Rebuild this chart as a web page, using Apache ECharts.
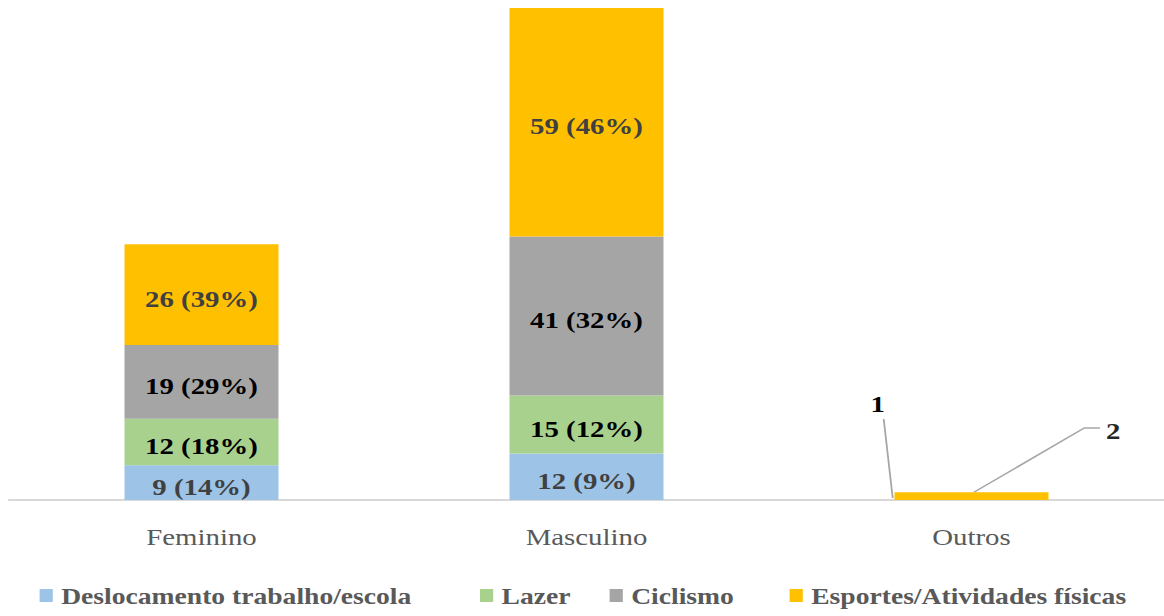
<!DOCTYPE html>
<html>
<head>
<meta charset="utf-8">
<script src="https://cdn.jsdelivr.net/npm/echarts@6/dist/echarts.min.js"></script>
<style>
html,body{margin:0;padding:0;background:#fff;overflow:hidden}
#wrap{width:1164px;height:616px;overflow:hidden}
#c{width:970px;height:616px;transform:scaleX(1.2);transform-origin:0 0}
</style>
</head>
<body>
<div id="wrap"><div id="c"></div></div>
<script>
const categories = ['Feminino', 'Masculino', 'Outros'];
const seriesNames = ['Deslocamento trabalho/escola', 'Lazer', 'Ciclismo', 'Esportes/Atividades físicas'];
const deslocamento = [9, 12, 0];
const lazer = [12, 15, 0];
const ciclismo = [19, 41, 0];
const esportes = [26, 59, 2];
const deslocamentoLabels = ['9 (14%)', '12 (9%)', '1'];
const lazerLabels = ['12 (18%)', '15 (12%)', ''];
const ciclismoLabels = ['19 (29%)', '41 (32%)', ''];
const esportesLabels = ['26 (39%)', '59 (46%)', '2'];

const colors = ['#9DC3E6', '#A9D18E', '#A5A5A5', '#FFC000'];
const labelColors = ['#404040', '#000000', '#000000', '#404040'];
const outrosLabelColors = ['#000000', '#000000', '#000000', '#262626'];
const serif = '"Liberation Serif", "Times New Roman", serif';

function mkSeries(idx, values, labels) {
  return {
    name: seriesNames[idx],
    type: 'bar',
    stack: 'total',
    barWidth: '40%',
    itemStyle: { color: colors[idx] },
    data: values.map((v, i) => (i === 2 ? { value: v, label: { color: outrosLabelColors[idx] } } : { value: v })),
    label: {
      show: true,
      position: 'inside',
      fontFamily: serif,
      fontWeight: 'bold',
      fontSize: 24,
      color: labelColors[idx],
      formatter: p => labels[p.dataIndex]
    },
    labelLayout: function (p) {
      const r = p.rect;
      if (p.dataIndex !== 2) return { dy: 4 };
      if (idx === 0) {
        return { x: r.x - 14, y: r.y - 96, align: 'center', verticalAlign: 'middle' };
      }
      if (idx === 3) {
        return { x: r.x + r.width / 2 + 118, y: r.y - 61, align: 'center', verticalAlign: 'middle' };
      }
      return {};
    }
  };
}

const legendLefts = [33, 400, 508, 658];
const legends = seriesNames.map((n, i) => ({
  data: [n],
  top: 584,
  left: legendLefts[i],
  padding: 0,
  itemWidth: 11,
  itemHeight: 13,
  icon: 'rect',
  selectedMode: false,
  textStyle: { fontFamily: serif, fontWeight: 'bold', fontSize: 23, color: '#595959', padding: [0, 0, 0, 2] }
}));

const chart = echarts.init(document.getElementById('c'), null, { renderer: 'svg' });
chart.setOption({
  animation: false,
  color: colors,
  grid: { left: 7.5, right: 0, top: 8, bottom: 116, containLabel: false },
  legend: legends,
  xAxis: {
    type: 'category',
    data: categories,
    axisLine: { lineStyle: { color: '#D9D9D9', width: 2 } },
    axisTick: { show: false },
    axisLabel: { fontFamily: serif, fontSize: 24, color: '#595959', margin: 25 }
  },
  yAxis: {
    type: 'value',
    min: 0,
    max: 127,
    show: false,
    splitLine: { show: false }
  },
  series: [
    mkSeries(0, deslocamento, deslocamentoLabels),
    mkSeries(1, lazer, lazerLabels),
    mkSeries(2, ciclismo, ciclismoLabels),
    mkSeries(3, esportes, esportesLabels)
  ]
});

// leader lines for the "Outros" labels, anchored on the bar via the chart's own scales
const finder = { xAxisIndex: 0, yAxisIndex: 0 };
const pOutTop = chart.convertToPixel(finder, ['Outros', esportes[2] + ciclismo[2] + lazer[2] + deslocamento[2]]);
const pOutBase = chart.convertToPixel(finder, ['Outros', 0]);
const band = chart.convertToPixel(finder, ['Masculino', 0])[0] - chart.convertToPixel(finder, ['Feminino', 0])[0];
const bw = band * 0.4;
const cx = pOutTop[0], topY = pOutTop[1], baseY = pOutBase[1];
const leftX = cx - bw / 2;
chart.setOption({
  graphic: [
    {
      type: 'polyline', silent: true,
      shape: { points: [[leftX - 1.5, baseY - 2], [leftX - 9, baseY - 81]] },
      style: { stroke: '#A6A6A6', lineWidth: 1.5, fill: null }
    },
    {
      type: 'polyline', silent: true,
      shape: { points: [[cx + 2, topY], [cx + 94, baseY - 72], [cx + 107, baseY - 72]] },
      style: { stroke: '#A6A6A6', lineWidth: 1.5, fill: null }
    }
  ]
});
</script>
</body>
</html>
